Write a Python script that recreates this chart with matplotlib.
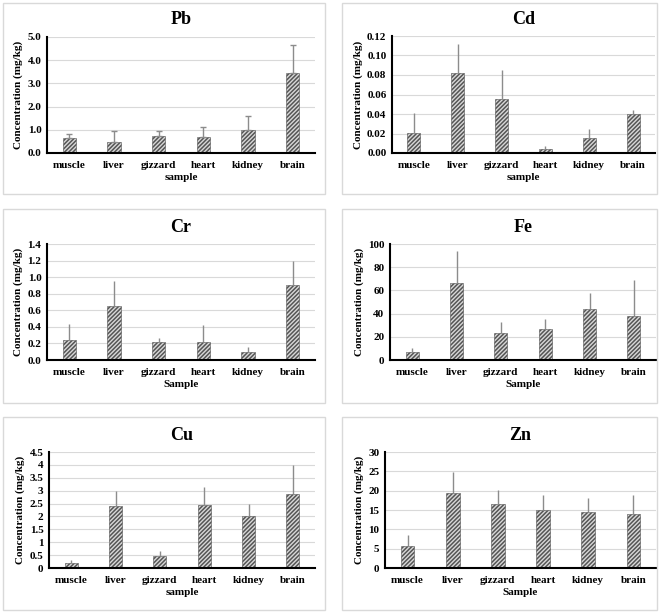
import matplotlib
matplotlib.use("Agg")
from matplotlib import pyplot as plt
from matplotlib.patches import Rectangle
from matplotlib.ticker import FormatStrFormatter, FuncFormatter

plt.rcParams['font.family'] = ['Liberation Serif', 'DejaVu Serif']
plt.rcParams['font.weight'] = 'bold'
plt.rcParams['hatch.linewidth'] = 1.1
plt.rcParams['hatch.color'] = '#2a2a2a'

samples = ["muscle", "liver", "gizzard", "heart", "kidney", "brain"]

pb_mean = [0.63, 0.48, 0.73, 0.67, 1.00, 3.45]
pb_top = [0.82, 0.96, 0.95, 1.10, 1.60, 4.65]

cd_mean = [0.021, 0.082, 0.055, 0.004, 0.015, 0.040]
cd_top = [0.041, 0.112, 0.085, 0.007, 0.025, 0.044]

cr_mean = [0.24, 0.65, 0.22, 0.22, 0.10, 0.90]
cr_top = [0.44, 0.95, 0.27, 0.42, 0.16, 1.20]

fe_mean = [6.5, 66, 23, 27, 44, 38]
fe_top = [10, 94, 33, 35, 58, 69]

cu_mean = [0.20, 2.40, 0.48, 2.45, 2.00, 2.88]
cu_top = [0.30, 3.00, 0.65, 3.15, 2.50, 4.00]

zn_mean = [5.8, 19.3, 16.5, 15.0, 14.5, 14.0]
zn_top = [8.5, 24.8, 20.2, 18.8, 18.1, 19.0]

W, H = 667, 612
fig = plt.figure(figsize=(W / 100, H / 100), dpi=100)


def frac(l, t, r, b):
    return [l / W, 1 - b / H, (r - l) / W, (b - t) / H]


def gfmt(v, pos):
    return ("%g" % round(v, 2))


panels = [
    # title, mean, top, ymax, step, fmt, xlabel, axes box, panel box, caps
    ("Pb", pb_mean, pb_top, 5.0, 1.0, FormatStrFormatter("%.1f"), "sample",
     (47, 37, 315, 153), (3, 3, 325, 194), 2),
    ("Cd", cd_mean, cd_top, 0.12, 0.02, FormatStrFormatter("%.2f"), "sample",
     (392, 36, 655, 153), (342, 3, 657, 194), 0),
    ("Cr", cr_mean, cr_top, 1.4, 0.2, FormatStrFormatter("%.1f"), "Sample",
     (47, 244, 315, 360), (3, 209, 325, 403), 0),
    ("Fe", fe_mean, fe_top, 100, 20, FormatStrFormatter("%d"), "Sample",
     (390, 244, 656, 360), (342, 209, 657, 403), 0),
    ("Cu", cu_mean, cu_top, 4.5, 0.5, FuncFormatter(gfmt), "sample",
     (49, 452, 315, 568), (3, 417, 325, 610), 0),
    ("Zn", zn_mean, zn_top, 30, 5, FormatStrFormatter("%d"), "Sample",
     (385, 452, 656, 568), (342, 417, 657, 610), 0),
]

for title, mean, top, ymax, step, fmt, xlab, abox, pbox, caps in panels:
    l, t, r, b = pbox
    fig.patches.append(Rectangle((l / W, 1 - b / H), (r - l) / W, (b - t) / H,
                                 transform=fig.transFigure, fill=False,
                                 edgecolor="#d9d9d9", linewidth=1.0))
    ax = fig.add_axes(frac(*abox))
    x = list(range(len(samples)))
    err = [tp - m for m, tp in zip(mean, top)]
    ax.bar(x, mean, width=0.3, color="#d8d8d8", edgecolor="#555555",
           linewidth=0.4, hatch="////////", zorder=2)
    ax.errorbar(x, mean, yerr=[[0] * len(mean), err], fmt="none",
                ecolor="#8c8c8c", elinewidth=1.0, capsize=caps, zorder=3)
    ax.set_xlim(-0.5, 5.5)
    ax.set_ylim(0, ymax)
    ticks = [i * step for i in range(int(round(ymax / step)) + 1)]
    ax.set_yticks(ticks)
    ax.yaxis.set_major_formatter(fmt)
    ax.set_xticks(x)
    ax.set_xticklabels(samples)
    ax.tick_params(length=0, labelsize=8, pad=4)
    ax.tick_params(axis="x", pad=6)
    ax.grid(axis="y", color="#d9d9d9", linewidth=0.8, zorder=0)
    ax.set_axisbelow(True)
    for s in ["top", "right"]:
        ax.spines[s].set_visible(False)
    ax.spines["left"].set_linewidth(1.5)
    ax.spines["bottom"].set_linewidth(1.5)
    ax.set_title(title, fontsize=13, fontweight="bold", pad=9)
    ax.set_ylabel("Concentration (mg/kg)", fontsize=8, fontweight="bold", labelpad=3)
    ax.set_xlabel(xlab, fontsize=8, fontweight="bold", labelpad=2)

fig.savefig("out.png", dpi=100)
